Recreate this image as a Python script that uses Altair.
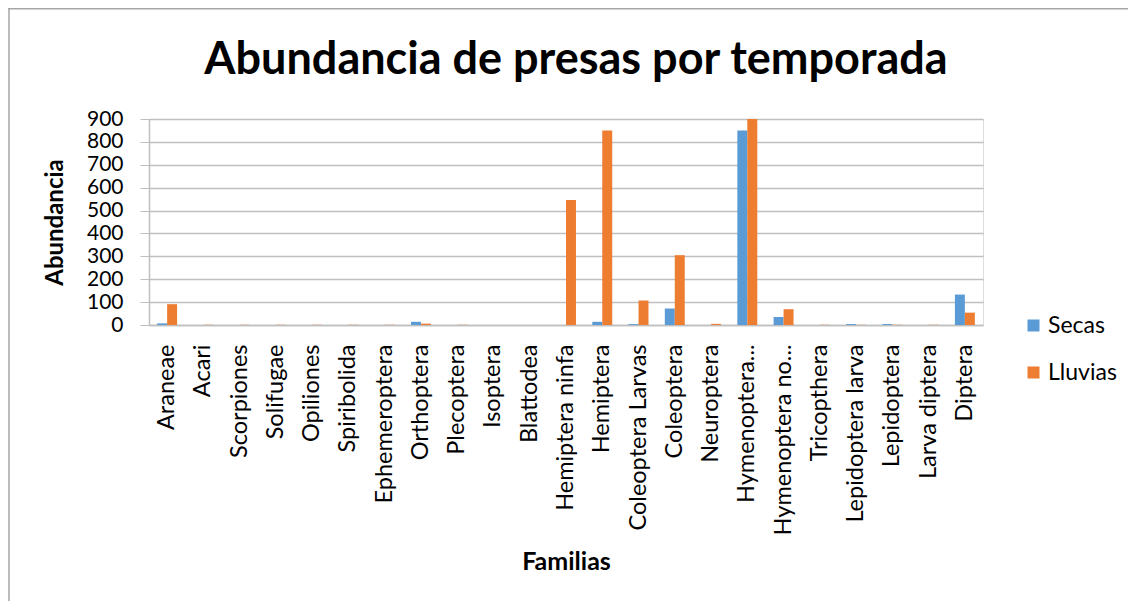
import altair as alt
import pandas as pd

familias = ["Araneae", "Acari", "Scorpiones", "Solifugae", "Opiliones", "Spiribolida",
            "Ephemeroptera", "Orthoptera", "Plecoptera", "Isoptera", "Blattodea",
            "Hemiptera ninfa", "Hemiptera", "Coleoptera Larvas", "Coleoptera", "Neuroptera",
            "Hymenoptera...", "Hymenoptera no...", "Tricopthera", "Lepidoptera larva",
            "Lepidoptera", "Larva diptera", "Diptera"]
secas = [7, 0, 0, 0, 0, 0, 0, 14, 0, 0, 0, 0, 14, 4, 72, 0, 850, 35, 0, 4, 4, 0, 133]
lluvias = [91, 1, 1, 1, 1, 1, 1, 6, 1, 0, 0, 546, 850, 107, 305, 5, 900, 69, 1, 1, 1, 1, 54]
series = ["Secas", "Lluvias"]
colors = ["#5B9BD5", "#ED7D31"]

rows = []
for f, s, l in zip(familias, secas, lluvias):
    rows.append({"Familia": f, "Temporada": "Secas", "Abundancia": s})
    rows.append({"Familia": f, "Temporada": "Lluvias", "Abundancia": l})
df = pd.DataFrame(rows)

FONT = "Lato"
GRID = "#BFBFBF"

bars = alt.Chart(df).mark_bar().encode(
    x=alt.X("Familia:N", sort=familias,
            scale=alt.Scale(paddingInner=0.45, paddingOuter=0.225),
            axis=alt.Axis(title="Familias", labelAngle=-90, labelAlign="right",
                          labelBaseline="middle", labelPadding=19, ticks=False,
                          labelFontSize=23.5, labelColor="#000000", labelFont=FONT,
                          domainColor=GRID, domainWidth=1.5,
                          titleFont=FONT, titleFontSize=25, titleFontWeight="bold",
                          titleColor="#000000", titleY=244, titleBaseline="alphabetic",
                          labelLimit=300)),
    xOffset=alt.XOffset("Temporada:N", sort=series),
    y=alt.Y("Abundancia:Q",
            scale=alt.Scale(domain=[0, 900], nice=False),
            axis=alt.Axis(title="Abundancia", values=list(range(0, 901, 100)),
                          tickSize=9, tickColor=GRID, domainColor=GRID, domainWidth=1.5,
                          gridColor=GRID, gridWidth=1.5, labelPadding=17,
                          labelFontSize=21, labelColor="#000000", labelFont=FONT,
                          titleFont=FONT, titleFontSize=24, titleFontWeight="bold",
                          titleColor="#000000", titleX=-87, titleBaseline="alphabetic")),
    color=alt.Color("Temporada:N", sort=series,
                    scale=alt.Scale(domain=series, range=colors),
                    legend=alt.Legend(title=None, orient="none", legendX=873, legendY=195,
                                      symbolType="square", symbolSize=144,
                                      symbolStrokeWidth=0, labelFontSize=23,
                                      labelFont=FONT, labelColor="#000000",
                                      rowPadding=23, labelOffset=3)),
)

border_top = alt.Chart().mark_rule(color="#A6A6A6", strokeWidth=1.5).encode(
    x=alt.value(-141), x2=alt.value(1100), y=alt.value(-110.2))
border_left = alt.Chart().mark_rule(color="#A6A6A6", strokeWidth=1.5).encode(
    x=alt.value(-140), y=alt.value(-110.2), y2=alt.value(600))

chart = alt.layer(bars, border_top, border_left).properties(
    width=834, height=206,
    title=alt.TitleParams("Abundancia de presas por temporada", font=FONT, fontSize=45,
                          fontWeight="bold", color="#000000", anchor="middle",
                          frame="group", offset=0, dx=10, dy=75),
    autosize=alt.AutoSizeParams(type="none"),
    padding={"left": 141, "top": 111, "right": 145, "bottom": 276},
).configure_view(stroke=None).configure(background="white")

chart.save("out.html", embed_options={"renderer": "svg", "actions": False})
